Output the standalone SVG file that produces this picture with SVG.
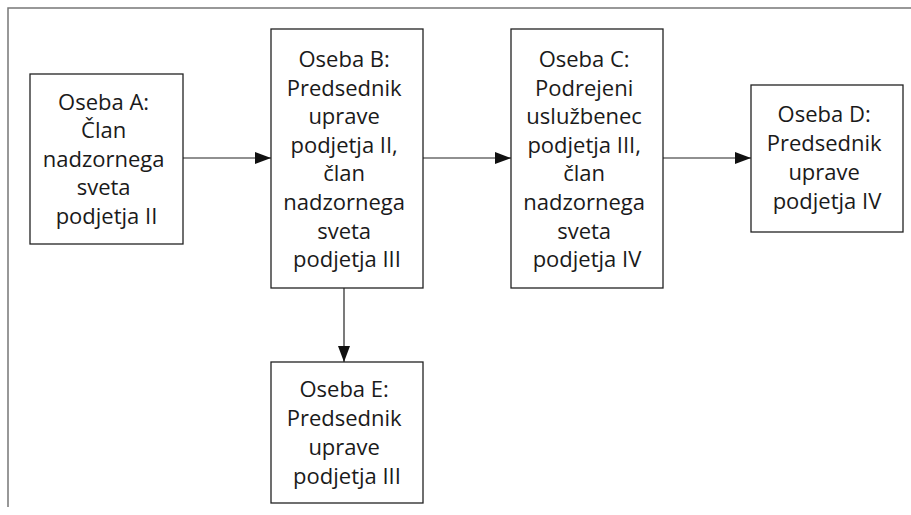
<svg xmlns="http://www.w3.org/2000/svg" width="911" height="515" viewBox="0 0 911 515">
<style>
  .box { fill: #ffffff; stroke: #222222; stroke-width: 1.3; }
  .lbl { font-family: "Open Sans", "Noto Sans", "DejaVu Sans", sans-serif; font-size: 22px; fill: #1a1a1a; text-anchor: middle; }
  .conn { stroke: #222222; stroke-width: 1.2; fill: none; }
  .frame { stroke: #777777; stroke-width: 1.5; fill: none; }
</style>
<defs>
  <marker id="arrow" viewBox="0 0 16 12" refX="16" refY="6" markerWidth="16" markerHeight="12" markerUnits="userSpaceOnUse" orient="auto">
    <path d="M0,0 L16,6 L0,12 Z" fill="#111111"/>
  </marker>
</defs>
<rect width="911" height="515" fill="#ffffff"/>
<g id="frame">
  <path class="frame" d="M8,507 L8,8 L911,8"/>
</g>
<g id="connectors">
  <line class="conn" x1="183" y1="158" x2="271" y2="158" marker-end="url(#arrow)"/>
  <line class="conn" x1="423" y1="158" x2="511" y2="158" marker-end="url(#arrow)"/>
  <line class="conn" x1="663" y1="158" x2="751" y2="158" marker-end="url(#arrow)"/>
  <line class="conn" x1="344" y1="288" x2="344" y2="362" marker-end="url(#arrow)"/>
</g>
<g id="nodeA">
  <rect class="box" x="30" y="74" width="153" height="170"/>
  <text class="lbl" x="106.5" y="109.5">
    <tspan x="106.5">Oseba A:</tspan>
    <tspan x="106.5" dy="28.6">Član</tspan>
    <tspan x="106.5" dy="28.6">nadzornega</tspan>
    <tspan x="106.5" dy="28.6">sveta</tspan>
    <tspan x="106.5" dy="28.6">podjetja II</tspan>
  </text>
</g>
<g id="nodeB">
  <rect class="box" x="271" y="29" width="152" height="259"/>
  <text class="lbl" x="347" y="67">
    <tspan x="347">Oseba B:</tspan>
    <tspan x="347" dy="28.6">Predsednik</tspan>
    <tspan x="347" dy="28.6">uprave</tspan>
    <tspan x="347" dy="28.6">podjetja II,</tspan>
    <tspan x="347" dy="28.6">član</tspan>
    <tspan x="347" dy="28.6">nadzornega</tspan>
    <tspan x="347" dy="28.6">sveta</tspan>
    <tspan x="347" dy="28.6">podjetja III</tspan>
  </text>
</g>
<g id="nodeC">
  <rect class="box" x="511" y="29" width="152" height="259"/>
  <text class="lbl" x="587" y="67">
    <tspan x="587">Oseba C:</tspan>
    <tspan x="587" dy="28.6">Podrejeni</tspan>
    <tspan x="587" dy="28.6">uslužbenec</tspan>
    <tspan x="587" dy="28.6">podjetja III,</tspan>
    <tspan x="587" dy="28.6">član</tspan>
    <tspan x="587" dy="28.6">nadzornega</tspan>
    <tspan x="587" dy="28.6">sveta</tspan>
    <tspan x="587" dy="28.6">podjetja IV</tspan>
  </text>
</g>
<g id="nodeD">
  <rect class="box" x="751" y="85" width="152" height="147"/>
  <text class="lbl" x="827" y="122">
    <tspan x="827">Oseba D:</tspan>
    <tspan x="827" dy="29">Predsednik</tspan>
    <tspan x="827" dy="29">uprave</tspan>
    <tspan x="827" dy="29">podjetja IV</tspan>
  </text>
</g>
<g id="nodeE">
  <rect class="box" x="271" y="362" width="152" height="141"/>
  <text class="lbl" x="347" y="396.5">
    <tspan x="347">Oseba E:</tspan>
    <tspan x="347" dy="29">Predsednik</tspan>
    <tspan x="347" dy="29">uprave</tspan>
    <tspan x="347" dy="29">podjetja III</tspan>
  </text>
</g>
</svg>
